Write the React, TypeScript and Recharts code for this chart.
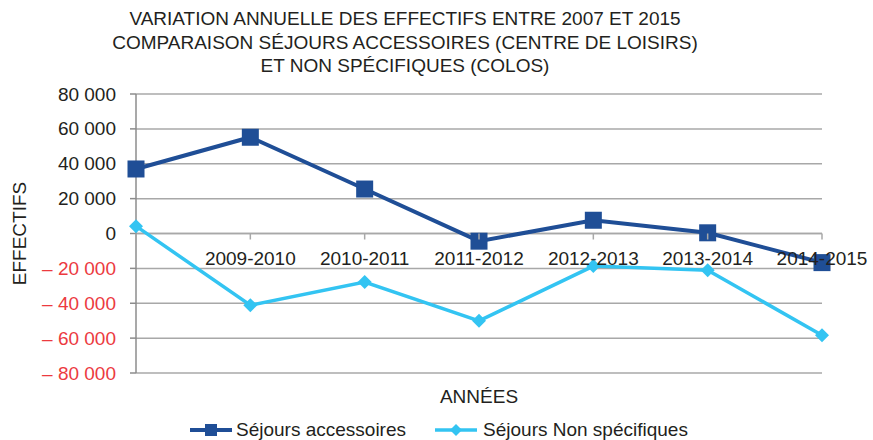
import React from 'react'
import { LineChart, Line, XAxis, YAxis, CartesianGrid, Legend, ReferenceLine } from 'recharts'

const categories = ['2008-2009', '2009-2010', '2010-2011', '2011-2012', '2012-2013', '2013-2014', '2014-2015']
const accessoires = [37000, 55200, 25500, -4400, 7600, 400, -16700]
const nonSpecifiques = [4200, -41100, -27800, -50100, -18700, -21100, -58300]
const yTicks = [80000, 60000, 40000, 20000, 0, -20000, -40000, -60000, -80000]
const titleLines = [
  'VARIATION ANNUELLE DES EFFECTIFS ENTRE 2007 ET 2015',
  'COMPARAISON SÉJOURS ACCESSOIRES (CENTRE DE LOISIRS)',
  'ET NON SPÉCIFIQUES (COLOS)',
]

const W = 873
const H = 440
const TOP = 94
const BOTTOM = 67
const LEGEND_H = 24
const XAXIS_H = 20
const ZERO_Y = TOP + (H - TOP - BOTTOM) / 2

const DARK = '#1f4e96'
const LIGHT = '#33c4f2'
const GRID = '#a8a8a8'
const TEXT = '#231f20'
const RED = '#ec3a3f'
const FONT = '"Liberation Sans", Arial, sans-serif'

const data = categories.map((c, i) => ({ cat: c, acc: accessoires[i], ns: nonSpecifiques[i] }))

const fmt = (v: number) => String(Math.abs(v)).replace(/\B(?=(\d{3})+(?!\d))/g, ' ')

function YTick({ x, y, payload }: any) {
  const v = payload.value as number
  return (
    <text x={x} y={y} dy={6.5} textAnchor="end" fontSize={19} fontFamily={FONT} fill={v < 0 ? RED : TEXT}>
      {v < 0 ? `– ${fmt(v)}` : fmt(v)}
    </text>
  )
}

function XTick({ x, payload, index }: any) {
  return (
    <g>
      <line x1={x} x2={x} y1={ZERO_Y} y2={ZERO_Y + 6} stroke={GRID} strokeWidth={1.5} />
      {index > 0 && (
        <text x={x} y={ZERO_Y + 31} textAnchor="middle" fontSize={19} fontFamily={FONT} fill={TEXT}>
          {payload.value}
        </text>
      )}
    </g>
  )
}

function SquareDot({ cx, cy }: any) {
  return <rect x={cx - 8.5} y={cy - 8.5} width={17} height={17} fill={DARK} />
}

function DiamondDot({ cx, cy }: any) {
  return <polygon points={`${cx},${cy - 7} ${cx + 7},${cy} ${cx},${cy + 7} ${cx - 7},${cy}`} fill={LIGHT} />
}

function LegendContent() {
  return (
    <div style={{ display: 'flex', height: LEGEND_H, alignItems: 'center', paddingLeft: 190, fontFamily: FONT, fontSize: 19, color: TEXT }}>
      <svg width={42} height={20}>
        <line x1={0} x2={42} y1={10} y2={10} stroke={DARK} strokeWidth={4} />
        <rect x={15} y={4} width={12} height={12} fill={DARK} />
      </svg>
      <span style={{ marginLeft: 4, marginRight: 29 }}>Séjours accessoires</span>
      <svg width={42} height={20}>
        <line x1={0} x2={42} y1={10} y2={10} stroke={LIGHT} strokeWidth={3.5} />
        <polygon points="21,4 27,10 21,16 15,10" fill={LIGHT} />
      </svg>
      <span style={{ marginLeft: 6 }}>Séjours Non spécifiques</span>
    </div>
  )
}

export default function App() {
  return (
    <div style={{ position: 'absolute', left: 0, top: 0, width: W, height: H, background: '#fff' }}>
      <div style={{ position: 'absolute', left: 0, top: 7, width: 810, textAlign: 'center', fontFamily: FONT, fontSize: 19, lineHeight: '23.5px', color: TEXT }}>
        {titleLines.map((t) => (
          <div key={t}>{t}</div>
        ))}
      </div>
      <LineChart width={W} height={H} data={data} margin={{ top: TOP, right: 51, left: 0, bottom: BOTTOM - LEGEND_H - XAXIS_H }}>
        <CartesianGrid vertical={false} stroke={GRID} strokeWidth={1.5} />
        <XAxis
          dataKey="cat"
          height={XAXIS_H}
          axisLine={false}
          tickLine={false}
          tick={<XTick />}
          interval={0}
          padding={{ left: 0, right: 0 }}
          label={{ value: 'ANNÉES', position: 'insideBottom', offset: -10, fontSize: 19, fontFamily: FONT, fill: TEXT }}
        />
        <YAxis
          width={136}
          domain={[-80000, 80000]}
          ticks={yTicks}
          interval={0}
          tick={<YTick />}
          tickSize={6}
          tickMargin={14}
          tickLine={{ stroke: '#8c8c8c', strokeWidth: 1.5 }}
          axisLine={{ stroke: '#8c8c8c', strokeWidth: 1.5 }}
          label={{ value: 'EFFECTIFS', angle: -90, position: 'insideLeft', offset: 19, fontSize: 19, fontFamily: FONT, fill: TEXT, style: { textAnchor: 'middle' } }}
        />
        <YAxis yAxisId="right" orientation="right" width={0} domain={[-80000, 80000]} tick={false} tickLine={false} axisLine={{ stroke: GRID, strokeWidth: 1.5 }} />
        <ReferenceLine y={0} stroke={GRID} strokeWidth={1.5} />
        <Legend verticalAlign="bottom" content={<LegendContent />} wrapperStyle={{ position: 'absolute', left: 0, top: 418, width: W, height: LEGEND_H }} />
        <Line dataKey="ns" stroke={LIGHT} strokeWidth={3.5} dot={<DiamondDot />} activeDot={false} isAnimationActive={false} />
        <Line dataKey="acc" stroke={DARK} strokeWidth={4} dot={<SquareDot />} activeDot={false} isAnimationActive={false} />
      </LineChart>
    </div>
  )
}
